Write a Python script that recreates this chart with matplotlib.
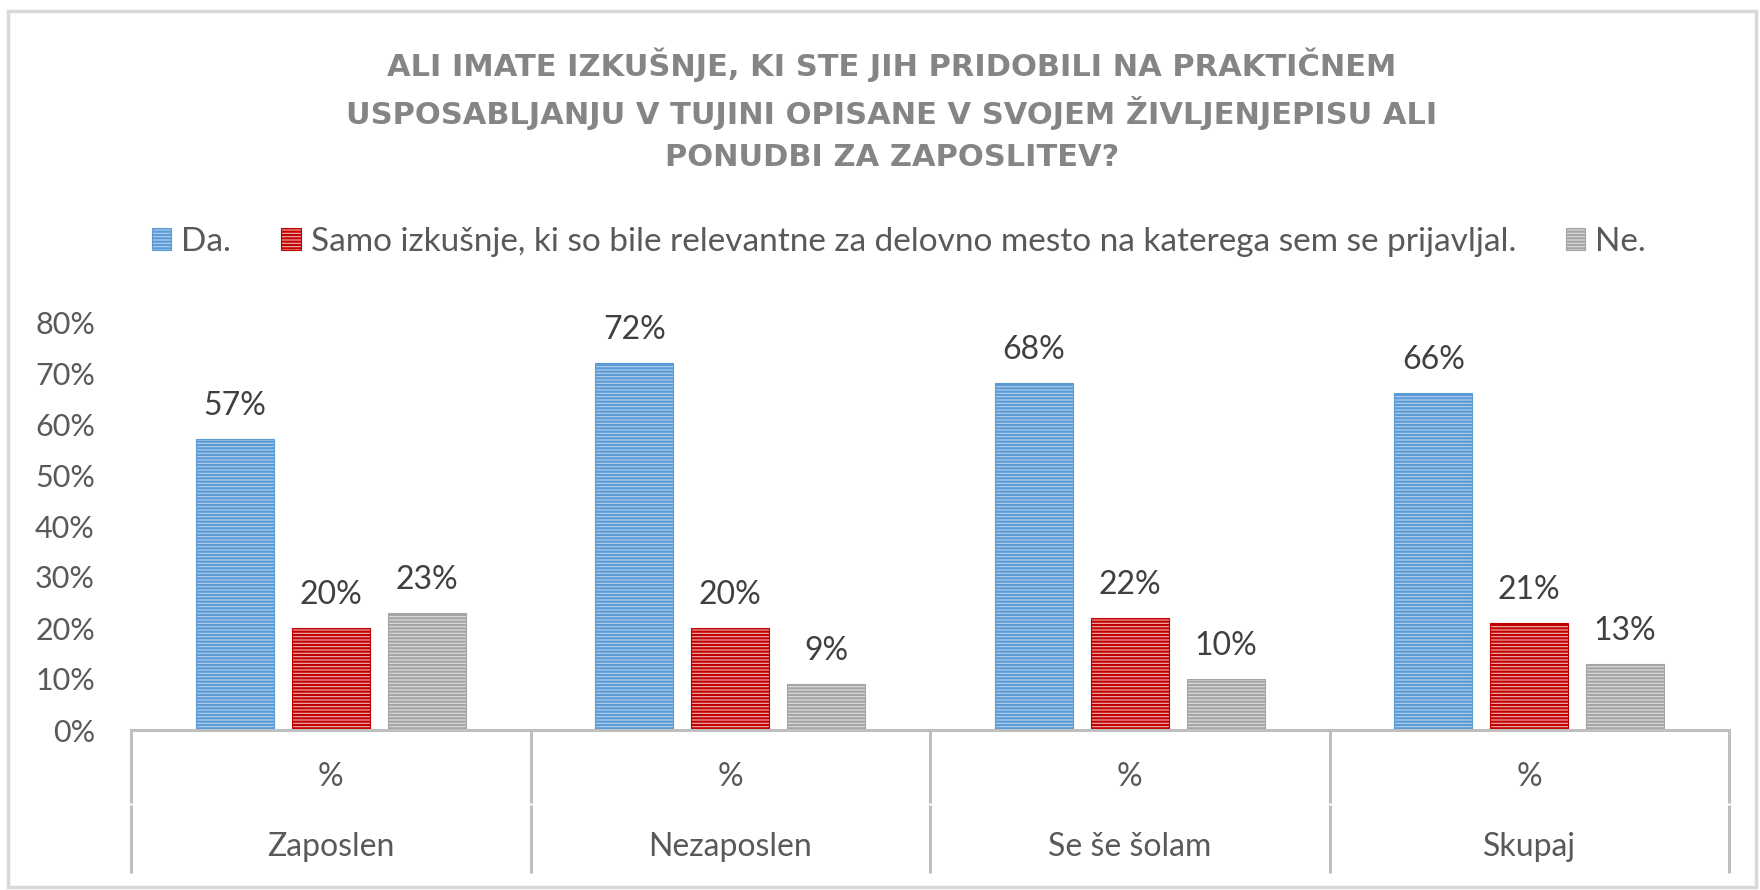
import matplotlib
matplotlib.use("Agg")
import matplotlib.pyplot as plt
from matplotlib.patches import Rectangle
import matplotlib.transforms as mtransforms
import numpy as np

groups = ["Zaposlen", "Nezaposlen", "Se še šolam", "Skupaj"]
sub_label = "%"
series_names = ["Da.", "Samo izkušnje, ki so bile relevantne za delovno mesto na katerega sem se prijavljal.", "Ne."]
da = [0.57, 0.72, 0.68, 0.66]
samo = [0.20, 0.20, 0.22, 0.21]
ne = [0.23, 0.09, 0.10, 0.13]
yticks = [0, 0.1, 0.2, 0.3, 0.4, 0.5, 0.6, 0.7, 0.8]
ytick_labels = ["0%", "10%", "20%", "30%", "40%", "50%", "60%", "70%", "80%"]
title_lines = ["ALI IMATE IZKUŠNJE, KI STE JIH PRIDOBILI NA PRAKTIČNEM",
               "USPOSABLJANJU V TUJINI OPISANE V SVOJEM ŽIVLJENJEPISU ALI",
               "PONUDBI ZA ZAPOSLITEV?"]

face_colors = ["#b4d0ee", "#f2b3b3", "#dedede"]
hatch_colors = ["#5b9bd5", "#c00000", "#a5a5a5"]

plt.rcParams['font.family'] = ['Lato', 'DejaVu Sans']
plt.rcParams['hatch.linewidth'] = 1.6

W, H = 1760, 890
fig = plt.figure(figsize=(W / 100, H / 100), dpi=100)
ax = fig.add_axes([131 / W, 1 - 730 / H, (1729 - 131) / W, (730 - 322) / H])

x = np.arange(len(groups))
bw = 0.195
step = 0.24
for i, vals in enumerate([da, samo, ne]):
    bars = ax.bar(x + (i - 1) * step, vals, width=bw, color=face_colors[i],
                  edgecolor=hatch_colors[i], linewidth=0.8, hatch="-----",
                  label=series_names[i])
    ax.bar_label(bars, labels=[f"{round(v*100)}%" for v in vals], padding=13,
                 fontsize=23, color="#404040")

ax.set_xlim(-0.5, len(groups) - 0.5)
ax.set_ylim(0, 0.8)
ax.set_yticks(yticks)
ax.set_yticklabels(ytick_labels, fontsize=22, color="#595959")
ax.tick_params(axis='y', length=0, pad=26)
ax.set_xticks([])
for s in ["top", "right", "left"]:
    ax.spines[s].set_visible(False)
ax.spines["bottom"].set_color("#bfbfbf")
ax.spines["bottom"].set_linewidth(2.2)

trans = mtransforms.blended_transform_factory(ax.transData, ax.transAxes)
for b in np.arange(-0.5, len(groups), 1.0):
    ax.plot([b, b], [0, -0.178], transform=trans, color="#bfbfbf", lw=2.2,
            clip_on=False, solid_capstyle="butt")
    ax.plot([b, b], [-0.183, -0.35], transform=trans, color="#bfbfbf", lw=2.2,
            clip_on=False, solid_capstyle="butt")
for xi, g in zip(x, groups):
    ax.text(xi, -0.115, sub_label, transform=trans, ha="center", va="center",
            fontsize=23, color="#595959")
    ax.text(xi, -0.287, g, transform=trans, ha="center", va="center",
            fontsize=23, color="#595959")

# title
for k, (line, yy) in enumerate(zip(title_lines, [65, 113, 158])):
    fig.text(892 / W, 1 - yy / H, line, ha="center", va="center", fontsize=22,
             fontweight="bold", color="#858585", family=['DejaVu Sans'])

# legend
handles = [Rectangle((0, 0), 1, 1, facecolor=face_colors[i], edgecolor=hatch_colors[i],
                     linewidth=0.8, hatch="-----") for i in range(3)]
fig.legend(handles, series_names, loc="center", bbox_to_anchor=(899 / W, 1 - 242 / H),
           ncol=3, frameon=False, fontsize=24, labelcolor="#595959",
           handlelength=0.58, handleheight=0.65, handletextpad=0.3, columnspacing=1.5)

# chart border
fig.patches.append(Rectangle((8 / W, 3 / H), (W - 12) / W, (H - 14) / H, transform=fig.transFigure,
                             fill=False, edgecolor="#d9d9d9", linewidth=2.5))

fig.savefig("out.png", dpi=100)
